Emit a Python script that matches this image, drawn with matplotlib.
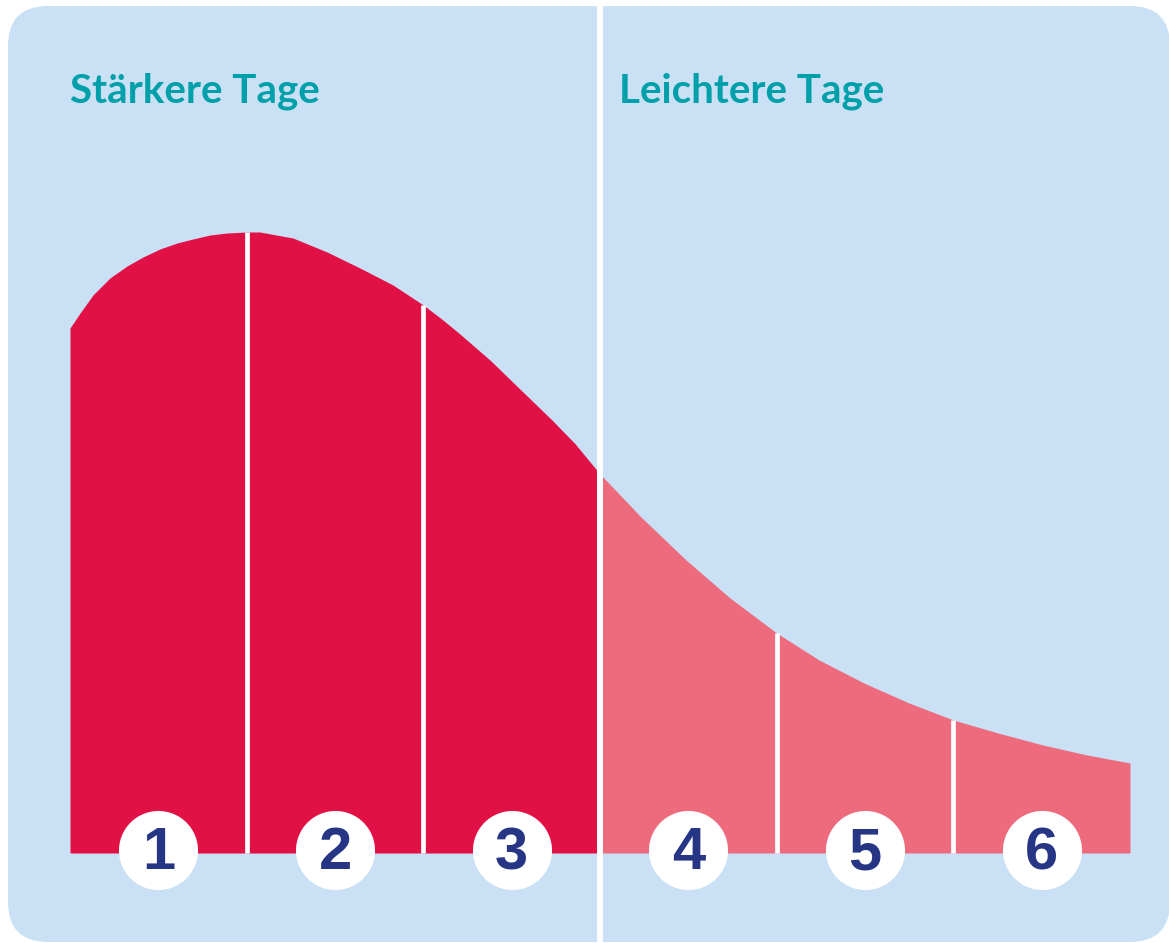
import matplotlib
matplotlib.use('Agg')  # no display in the sandbox
import matplotlib.pyplot as plt
from matplotlib.patches import FancyBboxPatch
import numpy as np

# Flow curve: x in days (0..6), y = height above the baseline
curve_x = [0.0, 0.057, 0.13, 0.226, 0.323, 0.413, 0.509, 0.606, 0.696, 0.792, 0.889,
           1.0, 1.075, 1.262, 1.455, 1.641, 1.828, 2.0, 2.111, 2.207, 2.377, 2.564,
           2.728, 2.86, 3.0, 3.232, 3.487, 3.736, 4.0, 4.24, 4.494, 4.749, 5.0, 5.253,
           5.507, 5.757, 6.0]
curve_y = [525, 540, 558, 575, 587, 596, 604, 610, 614, 618, 620,
           621, 621, 615, 601, 585, 568, 548, 533, 519, 493, 461,
           433, 409, 379, 336, 293, 255, 220, 193, 170, 150, 133, 120,
           108, 98, 90]
day_labels = ['1', '2', '3', '4', '5', '6']
section_titles = ['Stärkere Tage', 'Leichtere Tage']
split_day = 3  # end of the heavier days

# colours
bg_blue = '#cae0f4'
strong_red = '#e11146'
light_red = '#ed6b7c'
teal = '#00a0aa'
navy = '#273684'

W, H = 1169, 943
day_px = 176.67   # width of one day in pixels
x0_px, base_px = 70, 853

fig = plt.figure(figsize=(W / 100, H / 100), dpi=100)
fig.patch.set_facecolor('white')

# rounded light-blue card behind everything
card = FancyBboxPatch((0.08, 0.01), 11.62, 9.36,
                      boxstyle='round,pad=0,rounding_size=0.4',
                      transform=fig.dpi_scale_trans, facecolor=bg_blue,
                      edgecolor='none', zorder=-1)
fig.patches.append(card)

ax = fig.add_axes([0, 0, 1, 1])
ax.patch.set_alpha(0)
ax.axis('off')
ax.set_xlim(-x0_px / day_px, (W - x0_px) / day_px)
ax.set_ylim(base_px - H, base_px)

cx = np.array(curve_x)
cy = np.array(curve_y)
heavy = cx <= split_day
light = cx >= split_day
ax.fill_between(cx[heavy], 0, cy[heavy], color=strong_red, lw=0, zorder=2)
ax.fill_between(cx[light], 0, cy[light], color=light_red, lw=0, zorder=2)

# white day dividers inside the area
for d in [1, 2, 4, 5]:
    ax.vlines(d, 0, np.interp(d, cx, cy), color='white', lw=3.4, zorder=3)

# big divider between the two halves
ax.axvline(split_day, color='white', lw=4.3, zorder=4)

# section titles
ax.text(0.0, 751, section_titles[0], color=teal, fontsize=29, fontweight='bold',
        family='Lato', ha='left', va='baseline')
ax.text(split_day + 0.11, 751, section_titles[1], color=teal, fontsize=29,
        fontweight='bold', family='Lato', ha='left', va='baseline')

# numbered circles on the baseline
centers = np.arange(len(day_labels)) + 0.5
ax.scatter(centers, [3] * len(centers), s=3240, color='white', lw=0, zorder=5)
for c, lab in zip(centers, day_labels):
    ax.text(c, -16, lab, color=navy, fontsize=43, fontweight='bold',
            family='Liberation Sans', ha='center', va='baseline', zorder=6)

fig.savefig('out.png', dpi=100)
